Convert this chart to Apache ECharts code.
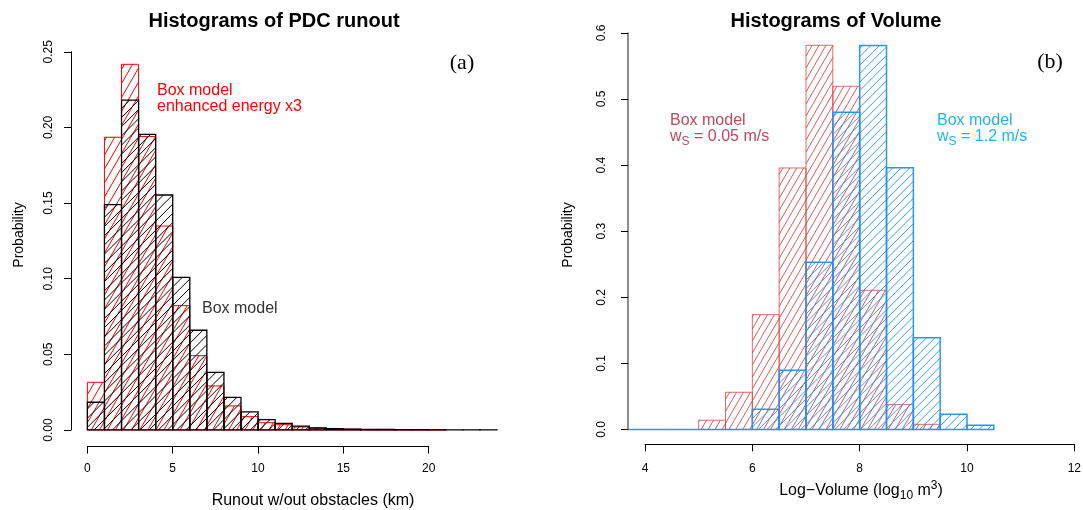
<!DOCTYPE html>
<html>
<head>
<meta charset="utf-8">
<script src="https://cdn.jsdelivr.net/npm/echarts@6/dist/echarts.min.js"></script>
<style>
  html, body { margin: 0; padding: 0; background: #ffffff; }
  #chart { width: 1083px; height: 510px; }
</style>
</head>
<body>
<div id="chart"></div>
<script>
// ---- Runout histograms (1 km bins starting at 0 km) ----
const runoutBinStart = 0;
const runoutBinWidth = 1;
const runoutBoxModel = [0.0183, 0.149, 0.218, 0.1954, 0.1553, 0.1009, 0.0659, 0.0381, 0.0216, 0.0119,
                        0.0068, 0.0044, 0.0026, 0.0013, 0.0009, 0.0005, 0.0004, 0.0003, 0.0002, 0.0002,
                        0.0001, 0.0001, 0.0001, 0.0001];
const runoutEnhanced = [0.0315, 0.1935, 0.2417, 0.194, 0.1348, 0.0822, 0.0491, 0.0291, 0.0159, 0.0088,
                        0.0048, 0.0035, 0.002, 0.0013, 0.0008, 0.0005, 0.0003, 0.0002, 0.0001, 0.0001,
                        0.0001];
const runoutXTicks = [0, 5, 10, 15, 20];
const runoutYTicks = [0, 0.05, 0.10, 0.15, 0.20, 0.25];

// ---- Log-volume histograms (0.5 bins) ----
const volumeBinWidth = 0.5;
const volumeSlowStart = 5.0;   // ws = 0.05 m/s
const volumeSlow = [0.014, 0.0563, 0.1737, 0.3956, 0.5812, 0.5192, 0.2106, 0.0376, 0.0078];
const volumeFastStart = 3.0;   // ws = 1.2 m/s
const volumeFast = [0, 0, 0, 0, 0, 0, 0.0305, 0.0895, 0.2529, 0.4798, 0.5807, 0.3961, 0.1389, 0.0229, 0.0063];
const volumeXTicks = [4, 6, 8, 10, 12];
const volumeYTicks = [0, 0.1, 0.2, 0.3, 0.4, 0.5, 0.6];

const SANS = 'Liberation Sans';
const SERIF = 'Liberation Serif';

function bins(start, width, values) {
  return values.map((v, i) => [start + i * width, start + (i + 1) * width, v]);
}

// Shading lines rising to the right at `angle` degrees, `gap` px apart,
// anchored to the canvas so neighbouring bars share one continuous pattern.
function hatch(left, right, top, bottom, angle, gap, color, width) {
  const out = [];
  if (bottom - top < 0.5) return out;
  const a = angle * Math.PI / 180;
  const t = Math.tan(a);
  const dk = gap / Math.cos(a);
  const kMin = top + t * left, kMax = bottom + t * right;
  for (let k = Math.ceil(kMin / dk) * dk; k <= kMax; k += dk) {
    const xa = Math.max(left, (k - bottom) / t);
    const xb = Math.min(right, (k - top) / t);
    if (xb - xa < 0.05) continue;
    out.push({
      type: 'line',
      shape: { x1: xa, y1: k - t * xa, x2: xb, y2: k - t * xb },
      style: { stroke: color, lineWidth: width }
    });
  }
  return out;
}

function histSeries(name, xi, yi, data, look) {
  return {
    type: 'custom',
    name: name,
    xAxisIndex: xi,
    yAxisIndex: yi,
    clip: true,
    silent: true,
    data: data,
    renderItem: function (params, api) {
      const x0 = api.value(0), x1 = api.value(1), v = api.value(2);
      const pTop = api.coord([x0, v]);
      const pBot = api.coord([x1, 0]);
      const left = pTop[0], right = pBot[0], top = pTop[1], bottom = pBot[1];
      const children = hatch(left, right, top, bottom, look.angle, look.gap, look.hatchColor, look.hatchWidth);
      children.push({
        type: 'polygon',
        shape: { points: [[left, bottom], [left, top], [right, top], [right, bottom]] },
        style: { fill: 'none', stroke: look.stroke, lineWidth: look.lineWidth }
      });
      return { type: 'group', children: children };
    }
  };
}

function shownAxis(extra) {
  return Object.assign({
    type: 'value',
    axisLine: { show: true, onZero: false, lineStyle: { color: '#000', width: 1 } },
    axisTick: { show: true, inside: false, length: 7, lineStyle: { color: '#000', width: 1 } },
    splitLine: { show: false },
    axisLabel: { fontFamily: SANS, fontSize: 12, color: '#000' }
  }, extra);
}
function hiddenAxis(extra) {
  return Object.assign({ type: 'value', show: false, splitLine: { show: false } }, extra);
}

const chart = echarts.init(document.getElementById('chart'), null, { renderer: 'canvas' });

const gridBase = { containLabel: false, outerBoundsMode: 'none', show: false };
const grids = [
  // 0: runout data area
  Object.assign({ left: 71, top: 21.5, width: 442.4, height: 425.1 }, gridBase),
  // 1: runout probability axis
  Object.assign({ left: 71, top: 51.8, width: 10, height: 378.2 }, gridBase),
  // 2: runout km axis
  Object.assign({ left: 87.3, top: 400, width: 341.4, height: 46.6 }, gridBase),
  // 3: volume data area
  Object.assign({ left: 628, top: 17, width: 455, height: 427.3 }, gridBase),
  // 4: volume probability axis
  Object.assign({ left: 628, top: 32.9, width: 10, height: 396.6 }, gridBase),
  // 5: volume log axis
  Object.assign({ left: 645, top: 400, width: 429.3, height: 44.3 }, gridBase)
];

const xAxes = [
  hiddenAxis({ gridIndex: 0, min: -0.96, max: 24.96 }),
  hiddenAxis({ gridIndex: 1, min: 0, max: 1 }),
  shownAxis({ gridIndex: 2, position: 'bottom',
              min: runoutXTicks[0], max: runoutXTicks[runoutXTicks.length - 1],
              interval: runoutXTicks[1] - runoutXTicks[0],
              axisLabel: { fontFamily: SANS, fontSize: 12, color: '#000', margin: 16 } }),
  hiddenAxis({ gridIndex: 3, min: 3.6833, max: 12.161 }),
  hiddenAxis({ gridIndex: 4, min: 0, max: 1 }),
  shownAxis({ gridIndex: 5, position: 'bottom',
              min: volumeXTicks[0], max: volumeXTicks[volumeXTicks.length - 1],
              interval: volumeXTicks[1] - volumeXTicks[0],
              axisLabel: { fontFamily: SANS, fontSize: 12, color: '#000', margin: 18 } })
];

const yAxes = [
  hiddenAxis({ gridIndex: 0, min: -0.011, max: 0.27 }),
  shownAxis({ gridIndex: 1, position: 'left',
              min: runoutYTicks[0], max: runoutYTicks[runoutYTicks.length - 1],
              interval: runoutYTicks[1] - runoutYTicks[0],
              axisLabel: { fontFamily: SANS, fontSize: 12, color: '#000', margin: 16, rotate: 90,
                           formatter: v => v.toFixed(2) } }),
  hiddenAxis({ gridIndex: 2, min: 0, max: 1 }),
  hiddenAxis({ gridIndex: 3, min: -0.0224, max: 0.624 }),
  shownAxis({ gridIndex: 4, position: 'left',
              min: volumeYTicks[0], max: volumeYTicks[volumeYTicks.length - 1],
              interval: volumeYTicks[1] - volumeYTicks[0],
              axisLine: { show: true, onZero: false, lineStyle: { color: '#666', width: 1.5 } },
              axisLabel: { fontFamily: SANS, fontSize: 12, color: '#000', margin: 20, rotate: 90,
                           formatter: v => v.toFixed(1) } }),
  hiddenAxis({ gridIndex: 5, min: 0, max: 1 })
];

const series = [
  histSeries('Box model enhanced energy x3', 0, 0, bins(runoutBinStart, runoutBinWidth, runoutEnhanced),
    { angle: 60, gap: 7, hatchColor: '#ff0000', hatchWidth: 1, stroke: '#ff0000', lineWidth: 1 }),
  histSeries('Box model', 0, 0, bins(runoutBinStart, runoutBinWidth, runoutBoxModel),
    { angle: 45, gap: 6.5, hatchColor: '#000000', hatchWidth: 1, stroke: '#000000', lineWidth: 1.3 }),
  histSeries('Box model ws = 0.05 m/s', 3, 3, bins(volumeSlowStart, volumeBinWidth, volumeSlow),
    { angle: 60, gap: 6, hatchColor: 'rgba(215,60,60,0.85)', hatchWidth: 1, stroke: 'rgba(215,70,70,0.8)', lineWidth: 1 }),
  histSeries('Box model ws = 1.2 m/s', 3, 3, bins(volumeFastStart, volumeBinWidth, volumeFast),
    { angle: 45, gap: 6, hatchColor: 'rgba(30,144,255,0.9)', hatchWidth: 1, stroke: 'rgba(30,144,255,0.95)', lineWidth: 1.5 })
];

function label(text, x, y, opts) {
  return {
    type: 'text',
    silent: true,
    x: x, y: y,
    rotation: opts.rotation || 0,
    style: Object.assign({
      text: text,
      fontFamily: SANS,
      fontSize: 16,
      fill: '#000',
      align: opts.align || 'left',
      verticalAlign: 'middle',
      textAlign: opts.align || 'left',
      textVerticalAlign: 'middle'
    }, opts.style || {})
  };
}

// rich styles for sub/superscripts (zrender styles, so colour is `fill`)
const subRich = (size, color) => ({
  n: { fontFamily: SANS, fontSize: size, lineHeight: 22, verticalAlign: 'middle', fill: color },
  sub: { fontFamily: SANS, fontSize: size - 4, lineHeight: 13, verticalAlign: 'bottom', fill: color },
  sup: { fontFamily: SANS, fontSize: size - 4, lineHeight: 10, verticalAlign: 'top', fill: color }
});

const graphics = [
  // titles
  label('Histograms of PDC runout', 274, 21, { align: 'center', style: { fontSize: 20, fontWeight: 'bold' } }),
  label('Histograms of Volume', 836, 21, { align: 'center', style: { fontSize: 20, fontWeight: 'bold' } }),
  label('(a)', 462, 63, { align: 'center', style: { fontFamily: SERIF, fontSize: 22 } }),
  label('(b)', 1050, 62, { align: 'center', style: { fontFamily: SERIF, fontSize: 22 } }),
  // axis titles
  label('Probability', 19, 235, { align: 'center', rotation: Math.PI / 2, style: { fontSize: 14 } }),
  label('Runout w/out obstacles (km)', 313, 501, { align: 'center', style: { fontSize: 16 } }),
  label('Probability', 568, 235, { align: 'center', rotation: Math.PI / 2, style: { fontSize: 14 } }),
  label('{n|Log\u2212Volume (log}{sub|10}{n| m}{sup|3}{n|)}', 861, 491,
        { align: 'center', style: { fill: '#000', rich: subRich(16, '#000') } }),
  // series annotations
  label('Box model', 157, 91, { style: { fill: '#ff0000' } }),
  label('enhanced energy x3', 157, 107, { style: { fill: '#ff0000' } }),
  label('Box model', 202, 309, { style: { fill: '#333333' } }),
  label('Box model', 670, 121, { style: { fill: '#c0485c' } }),
  label('{n|w}{sub|S}{n| = 0.05 m/s}', 670, 137, { style: { fill: '#c0485c', rich: subRich(16, '#c0485c') } }),
  label('Box model', 937, 121, { style: { fill: '#1fb4f0' } }),
  label('{n|w}{sub|S}{n| = 1.2 m/s}', 937, 137, { style: { fill: '#1fb4f0', rich: subRich(16, '#1fb4f0') } })
];

chart.setOption({
  animation: false,
  backgroundColor: '#ffffff',
  grid: grids,
  xAxis: xAxes,
  yAxis: yAxes,
  series: series,
  graphic: { elements: graphics }
});
</script>
</body>
</html>
